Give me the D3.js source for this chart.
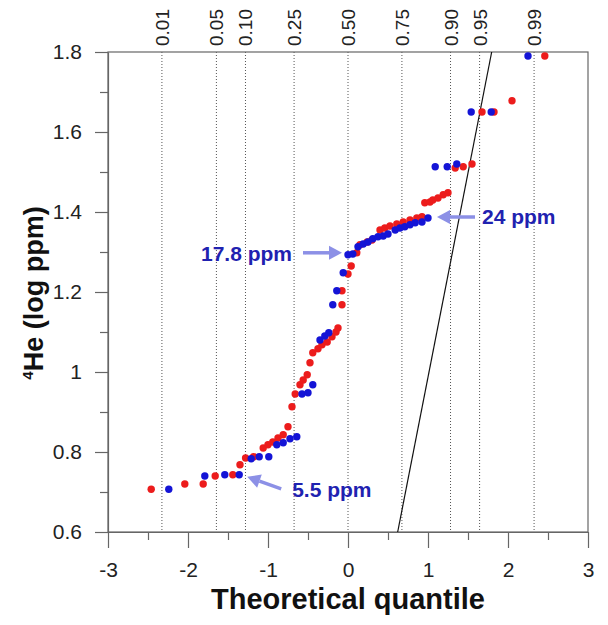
<!DOCTYPE html>
<html>
<head>
<meta charset="utf-8">
<script src="https://cdn.jsdelivr.net/npm/d3@7"></script>
<style>
  body { margin: 0; background: #fff; }
  svg { display: block; font-family: "Liberation Sans", Arial, sans-serif; }
</style>
</head>
<body>
<div id="chart"></div>
<script>
// red series (theoretical quantile, log ppm)
const redX = [-2.46, -2.04, -1.81, -1.66, -1.44, -1.35, -1.28, -1.18, -1.06, -1.00,
  -0.94, -0.875, -0.81, -0.75, -0.70, -0.66, -0.60, -0.56, -0.51, -0.475,
  -0.44, -0.375, -0.325, -0.26, -0.20, -0.15, -0.125, -0.075, -0.075, 0.0,
  0.04, 0.11, 0.15, 0.24, 0.30, 0.40, 0.46, 0.525, 0.61, 0.69,
  0.775, 0.86, 0.925, 0.96, 1.025, 1.06, 1.125, 1.19, 1.25, 1.34,
  1.44, 1.55, 1.675, 1.825, 2.05, 2.46];
const redY = [0.707, 0.72, 0.72, 0.74, 0.743, 0.768, 0.785, 0.788, 0.81, 0.818,
  0.825, 0.835, 0.843, 0.863, 0.913, 0.945, 0.968, 0.98, 0.993, 1.023,
  1.048, 1.058, 1.068, 1.075, 1.088, 1.10, 1.11, 1.168, 1.203, 1.245,
  1.265, 1.298, 1.318, 1.325, 1.33, 1.355, 1.36, 1.365, 1.37, 1.375,
  1.38, 1.385, 1.388, 1.423, 1.425, 1.43, 1.435, 1.443, 1.448, 1.51,
  1.513, 1.52, 1.65, 1.65, 1.678, 1.79];

// blue series
const blueX = [-2.24, -1.79, -1.54, -1.36, -1.21, -1.11, -0.99, -0.89, -0.81, -0.725,
  -0.64, -0.575, -0.50, -0.44, -0.35, -0.29, -0.24, -0.19, -0.14, -0.06,
  0.0, 0.06, 0.125, 0.19, 0.25, 0.31, 0.375, 0.44, 0.50, 0.59,
  0.65, 0.71, 0.775, 0.84, 0.925, 1.0, 1.09, 1.24, 1.36, 1.54,
  1.79, 2.25];
const blueY = [0.707, 0.74, 0.743, 0.743, 0.783, 0.788, 0.788, 0.818, 0.823, 0.833,
  0.838, 0.945, 0.948, 0.968, 1.08, 1.09, 1.098, 1.168, 1.203, 1.248,
  1.293, 1.295, 1.313, 1.32, 1.325, 1.333, 1.338, 1.34, 1.345, 1.355,
  1.36, 1.363, 1.368, 1.373, 1.375, 1.385, 1.513, 1.513, 1.52, 1.65,
  1.65, 1.79];

// probability grid lines on top
const probs = ["0.01", "0.05", "0.10", "0.25", "0.50", "0.75", "0.90", "0.95", "0.99"];
const probZ = [-2.326, -1.645, -1.2816, -0.674, 0, 0.674, 1.2816, 1.645, 2.326];

// reference line ends
const refX = [0.621, 1.796];
const refY = [0.6, 1.8];

// annotations
const notes = [
  {label: "17.8 ppm", x: 0.0, y: 1.293},
  {label: "24 ppm", x: 1.0, y: 1.385},
  {label: "5.5 ppm", x: -1.36, y: 0.743}
];

const width = 608, height = 625;
const margin = {top: 52, right: 20, bottom: 93, left: 108};
const iw = 480, ih = 480;

const svg = d3.select("#chart").append("svg")
  .attr("width", width)
  .attr("height", height);

const g = svg.append("g").attr("transform", `translate(${margin.left},${margin.top})`);

const x = d3.scaleLinear().domain([-3, 3]).range([0, iw]);
const y = d3.scaleLinear().domain([0.6, 1.8]).range([ih, 0]);

// dotted quantile lines
g.append("g")
  .selectAll("line")
  .data(probZ)
  .join("line")
  .attr("x1", d => x(d)).attr("x2", d => x(d))
  .attr("y1", 0).attr("y2", ih)
  .attr("stroke", "#555")
  .attr("stroke-width", 1)
  .attr("stroke-dasharray", "1,2");

g.append("g")
  .attr("font-size", 19)
  .attr("fill", "#222")
  .selectAll("text")
  .data(probs)
  .join("text")
  .attr("transform", (d, i) => `translate(${x(probZ[i]) + 7},-6) rotate(-90)`)
  .text(d => d);

// frame
g.append("rect")
  .attr("width", iw).attr("height", ih)
  .attr("fill", "none")
  .attr("stroke", "#666")
  .attr("stroke-width", 1.2);

// x axis
g.append("g").attr("transform", `translate(0,${ih})`)
  .call(d3.axisBottom(x).tickValues(d3.range(-3, 3.01, 1)).tickSize(16).tickSizeOuter(0).tickPadding(14).tickFormat(d => String(d)));
g.append("g").attr("transform", `translate(0,${ih})`)
  .call(d3.axisBottom(x).tickValues(d3.range(-2.5, 3, 1)).tickSize(8).tickFormat(""))
  .call(a => a.select(".domain").remove());

// y axis
g.append("g")
  .call(d3.axisLeft(y).tickValues([0.6, 0.8, 1, 1.2, 1.4, 1.6, 1.8]).tickSize(13).tickSizeOuter(0).tickPadding(13).tickFormat(d => d === 1 ? "1" : d3.format(".1f")(d)));
g.append("g")
  .call(d3.axisLeft(y).tickValues([0.7, 0.9, 1.1, 1.3, 1.5, 1.7]).tickSize(8).tickFormat(""))
  .call(a => a.select(".domain").remove());

g.selectAll(".tick line").attr("stroke", "#666").attr("stroke-width", 1.2);
g.selectAll(".domain").attr("stroke", "#666").attr("stroke-width", 1.2);
g.selectAll(".tick text").attr("font-size", 21).attr("fill", "#222").attr("font-family", "Liberation Sans, Arial, sans-serif");

// reference line
g.append("line")
  .attr("x1", x(refX[0])).attr("y1", y(refY[0]))
  .attr("x2", x(refX[1])).attr("y2", y(refY[1]))
  .attr("stroke", "#111")
  .attr("stroke-width", 1.2);

// points
const red = redX.map((d, i) => ({x: d, y: redY[i]}));
const blue = blueX.map((d, i) => ({x: d, y: blueY[i]}));

g.append("g")
  .selectAll("circle")
  .data(red)
  .join("circle")
  .attr("cx", d => x(d.x))
  .attr("cy", d => y(d.y))
  .attr("r", 3.7)
  .attr("fill", "#ec1c1c");

g.append("g")
  .selectAll("circle")
  .data(blue)
  .join("circle")
  .attr("cx", d => x(d.x))
  .attr("cy", d => y(d.y))
  .attr("r", 3.7)
  .attr("fill", "#1414d6");

// arrows + labels
const arrowColor = "#8c90e6";
function arrow(x1, y1, x2, y2) {
  const ang = Math.atan2(y2 - y1, x2 - x1);
  const head = 13, hw = 7;
  const bx = x2 - head * Math.cos(ang), by = y2 - head * Math.sin(ang);
  g.append("line")
    .attr("x1", x1).attr("y1", y1).attr("x2", bx).attr("y2", by)
    .attr("stroke", arrowColor).attr("stroke-width", 3.5);
  const px = -Math.sin(ang) * hw, py = Math.cos(ang) * hw;
  g.append("path")
    .attr("d", `M${x2},${y2}L${bx + px},${by + py}L${bx - px},${by - py}Z`)
    .attr("fill", arrowColor);
}

const noteText = g.append("g")
  .attr("font-size", 21)
  .attr("font-weight", "bold")
  .attr("fill", "#1f22b0");

// 17.8 ppm, arrow pointing right
let n = notes[0];
arrow(x(n.x) - 45, y(n.y) - 2, x(n.x) - 6, y(n.y) - 2);
noteText.append("text").attr("x", x(n.x) - 56).attr("y", y(n.y) + 6)
  .attr("text-anchor", "end").text(n.label);

// 24 ppm, arrow pointing left
n = notes[1];
arrow(x(n.x) + 47, y(n.y) - 1, x(n.x) + 9, y(n.y) - 1);
noteText.append("text").attr("x", x(n.x) + 54).attr("y", y(n.y) + 6)
  .text(n.label);

// 5.5 ppm, arrow pointing up-left
n = notes[2];
arrow(x(n.x) + 42, y(n.y) + 14, x(n.x) + 8, y(n.y) + 2);
noteText.append("text").attr("x", x(n.x) + 53).attr("y", y(n.y) + 22)
  .text(n.label);

// axis titles
svg.append("text")
  .attr("x", margin.left + iw / 2)
  .attr("y", 609)
  .attr("text-anchor", "middle")
  .attr("font-size", 29)
  .attr("font-weight", "bold")
  .attr("fill", "#111")
  .text("Theoretical quantile");

const yt = svg.append("text")
  .attr("transform", "translate(43,293) rotate(-90)")
  .attr("text-anchor", "middle")
  .attr("font-size", 27)
  .attr("font-weight", "bold")
  .attr("fill", "#111");
yt.append("tspan").attr("font-size", 15).attr("dy", -10).text("4");
yt.append("tspan").attr("dy", 10).text("He (log ppm)");
</script>
</body>
</html>
